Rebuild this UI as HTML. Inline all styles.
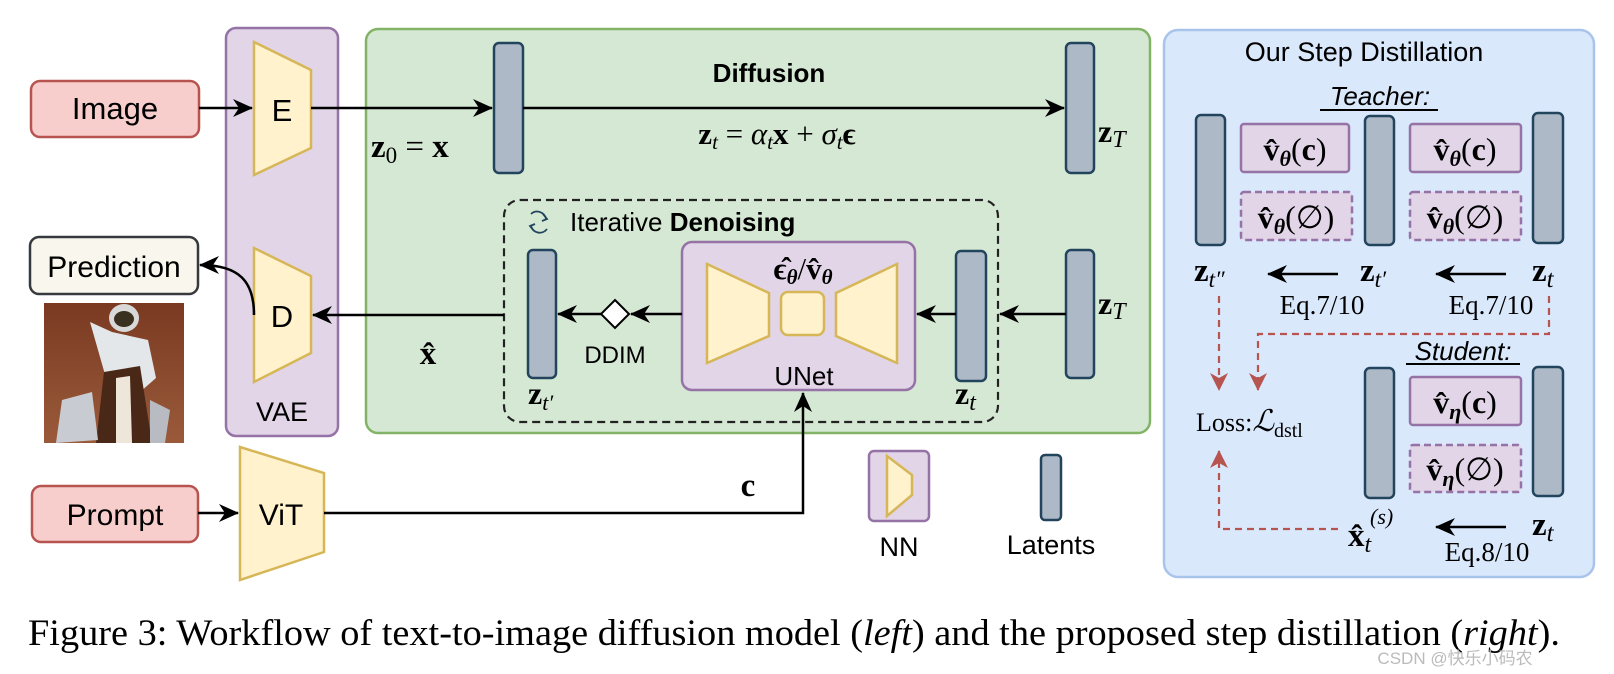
<!DOCTYPE html>
<html><head><meta charset="utf-8"><style>
html,body{margin:0;padding:0;background:#fff;}
svg{display:block;}
.s{font-family:"Liberation Sans",sans-serif;}
.m{font-family:"Liberation Serif",serif;}
</style></head><body>
<svg width="1614" height="674" viewBox="0 0 1614 674" xmlns="http://www.w3.org/2000/svg">
<defs>
<marker id="ahb" markerWidth="20" markerHeight="18" refX="19" refY="9" orient="auto" markerUnits="userSpaceOnUse" viewBox="0 0 20 18">
<path d="M0,0 L20,9 L0,18 L6,9 Z" fill="#000"/></marker>
<marker id="ahr" markerWidth="18" markerHeight="18" refX="17" refY="9" orient="auto" markerUnits="userSpaceOnUse" viewBox="0 0 18 18">
<path d="M0,0 L18,9 L0,18 L5,9 Z" fill="#b85450"/></marker>
<linearGradient id="ph" x1="0" y1="0" x2="0" y2="1">
<stop offset="0" stop-color="#7a3a22"/><stop offset="1" stop-color="#9a5a3a"/></linearGradient>
</defs>

<rect x="31" y="81" width="168" height="56" rx="9" fill="#f8cecc" stroke="#b85450" stroke-width="2.5"/>
<text x="115" y="119" class="s" font-size="31" text-anchor="middle">Image</text>
<rect x="30" y="237" width="168" height="57" rx="9" fill="#f9f7ed" stroke="#36393d" stroke-width="2.5"/>
<text x="114" y="277" class="s" font-size="30" text-anchor="middle">Prediction</text>
<rect x="44" y="303" width="140" height="140" fill="url(#ph)"/>
<ellipse cx="124" cy="318" rx="15" ry="14" fill="#d8d8d8"/>
<ellipse cx="124" cy="319" rx="10" ry="8" fill="#3a3020"/>
<path d="M90,322 L112,332 L148,340 L156,378 L140,392 L108,385 Z" fill="#e4e7ea"/>
<path d="M104,372 L140,366 L152,443 L96,443 Z" fill="#4a2818"/>
<path d="M116,378 L130,376 L132,443 L116,443 Z" fill="#efe6da"/>
<path d="M62,400 L92,392 L98,440 L56,443 Z" fill="#c8ccd2"/>
<path d="M150,400 L170,410 L165,443 L150,443 Z" fill="#b8bcc2"/>

<rect x="226" y="28" width="112" height="408" rx="10" fill="#e1d5e7" stroke="#9673a6" stroke-width="2.5"/>
<path d="M254,42 L311,70 L311,148 L254,175 Z" fill="#fff2cc" stroke="#d6b656" stroke-width="2.5"/>
<text x="282" y="121" class="s" font-size="31" text-anchor="middle">E</text>
<path d="M254,248 L311,276 L311,353 L254,382 Z" fill="#fff2cc" stroke="#d6b656" stroke-width="2.5"/>
<text x="282" y="327" class="s" font-size="31" text-anchor="middle">D</text>
<text x="282" y="421" class="s" font-size="27" text-anchor="middle">VAE</text>

<rect x="366" y="29" width="784" height="404" rx="12" fill="#d5e8d4" stroke="#82b366" stroke-width="2.5"/>
<text x="769" y="82" class="s" font-size="26" font-weight="bold" text-anchor="middle">Diffusion</text>
<rect x="494" y="43" width="29" height="130" rx="5" fill="#adb9c6" stroke="#23445d" stroke-width="2.5"/>
<rect x="1066" y="43" width="28" height="130" rx="5" fill="#adb9c6" stroke="#23445d" stroke-width="2.5"/>
<text x="371" y="157" class="m" font-size="33"><tspan font-weight="bold">z</tspan><tspan font-size="23" dy="6">0</tspan><tspan dy="-6"> = </tspan><tspan font-weight="bold">x</tspan></text>
<text x="1098" y="142" class="m" font-size="32"><tspan font-weight="bold">z</tspan><tspan font-style="italic" font-size="24" dy="5">T</tspan></text>
<text x="777" y="144" class="m" font-size="31" text-anchor="middle"><tspan font-weight="bold">z</tspan><tspan font-style="italic" font-size="21" dy="5">t</tspan><tspan dy="-5"> = </tspan><tspan font-style="italic">α</tspan><tspan font-style="italic" font-size="21" dy="5">t</tspan><tspan font-weight="bold" dy="-5">x</tspan><tspan> + </tspan><tspan font-style="italic">σ</tspan><tspan font-style="italic" font-size="21" dy="5">t</tspan><tspan font-weight="bold" dy="-5">ϵ</tspan></text>
<line x1="199" y1="108" x2="252" y2="108" stroke="#000" stroke-width="2.5" marker-end="url(#ahb)"/>
<line x1="311" y1="108" x2="492" y2="108" stroke="#000" stroke-width="2.5" marker-end="url(#ahb)"/>
<line x1="523" y1="108" x2="1064" y2="108" stroke="#000" stroke-width="2.5" marker-end="url(#ahb)"/>

<rect x="504" y="200" width="494" height="222" rx="16" fill="none" stroke="#222" stroke-width="2.2" stroke-dasharray="8,5"/>
<g fill="none" stroke="#23445d" stroke-width="1.8">
<path d="M531,214 A9,9 0 0 1 546,219"/><path d="M547,229 A9,9 0 0 1 531,226"/>
<path d="M543,214 L547,219 L542,221"/><path d="M534,231 L530,226 L535,224"/>
</g>
<text x="570" y="231" class="s" font-size="26">Iterative <tspan font-weight="bold">Denoising</tspan></text>
<rect x="528" y="250" width="28" height="128" rx="5" fill="#adb9c6" stroke="#23445d" stroke-width="2.5"/>
<rect x="956" y="251" width="30" height="130" rx="5" fill="#adb9c6" stroke="#23445d" stroke-width="2.5"/>
<rect x="1066" y="250" width="28" height="128" rx="5" fill="#adb9c6" stroke="#23445d" stroke-width="2.5"/>
<text x="528" y="404" class="m" font-size="32"><tspan font-weight="bold">z</tspan><tspan font-style="italic" font-size="22" dy="6">t′</tspan></text>
<text x="955" y="404" class="m" font-size="32"><tspan font-weight="bold">z</tspan><tspan font-style="italic" font-size="24" dy="6">t</tspan></text>
<text x="1098" y="314" class="m" font-size="32"><tspan font-weight="bold">z</tspan><tspan font-style="italic" font-size="24" dy="5">T</tspan></text>
<rect x="682" y="242" width="233" height="148" rx="10" fill="#e1d5e7" stroke="#9673a6" stroke-width="2.5"/>
<path d="M707,264 L769,293 L769,336 L707,363 Z" fill="#fff2cc" stroke="#d6b656" stroke-width="2.5"/>
<rect x="781" y="292" width="43" height="43" rx="7" fill="#fff2cc" stroke="#d6b656" stroke-width="2.5"/>
<path d="M836,293 L897,264 L897,363 L836,336 Z" fill="#fff2cc" stroke="#d6b656" stroke-width="2.5"/>
<text x="803" y="279" class="m" font-size="31" font-weight="bold" text-anchor="middle">ϵ̂<tspan font-style="italic" font-size="21" dy="5">θ</tspan><tspan dy="-5" font-weight="normal">/</tspan>v̂<tspan font-style="italic" font-size="21" dy="5">θ</tspan></text>
<text x="804" y="385" class="s" font-size="26" text-anchor="middle">UNet</text>
<path d="M615,300 L629,314 L615,328 L601,314 Z" fill="#fff" stroke="#000" stroke-width="2"/>
<text x="615" y="363" class="s" font-size="24" text-anchor="middle">DDIM</text>
<line x1="682" y1="314" x2="631" y2="314" stroke="#000" stroke-width="2.5" marker-end="url(#ahb)"/>
<line x1="601" y1="314" x2="558" y2="314" stroke="#000" stroke-width="2.5" marker-end="url(#ahb)"/>
<line x1="956" y1="314" x2="917" y2="314" stroke="#000" stroke-width="2.5" marker-end="url(#ahb)"/>
<line x1="1066" y1="314" x2="1000" y2="314" stroke="#000" stroke-width="2.5" marker-end="url(#ahb)"/>
<line x1="504" y1="315" x2="313" y2="315" stroke="#000" stroke-width="2.5" marker-end="url(#ahb)"/>
<text x="428" y="364" class="m" font-size="33" font-weight="bold" text-anchor="middle">x̂</text>
<path d="M254,315 C254,282 240,265 200,265" fill="none" stroke="#000" stroke-width="2.5" marker-end="url(#ahb)"/>

<rect x="32" y="486" width="166" height="56" rx="9" fill="#f8cecc" stroke="#b85450" stroke-width="2.5"/>
<text x="115" y="525" class="s" font-size="30" text-anchor="middle">Prompt</text>
<path d="M240,447 L324,473 L324,552 L240,580 Z" fill="#fff2cc" stroke="#d6b656" stroke-width="2.5"/>
<text x="281" y="525" class="s" font-size="30" text-anchor="middle">ViT</text>
<line x1="198" y1="513" x2="238" y2="513" stroke="#000" stroke-width="2.5" marker-end="url(#ahb)"/>
<path d="M324,513 H803 V393" fill="none" stroke="#000" stroke-width="2.5" marker-end="url(#ahb)"/>
<text x="748" y="496" class="m" font-size="33" font-weight="bold" text-anchor="middle">c</text>

<rect x="869" y="451" width="60" height="70" rx="5" fill="#e1d5e7" stroke="#9673a6" stroke-width="2.5"/>
<path d="M887,456 L912,475 L912,495 L887,516 Z" fill="#fff2cc" stroke="#d6b656" stroke-width="2.5"/>
<text x="899" y="556" class="s" font-size="27" text-anchor="middle">NN</text>
<rect x="1041" y="455" width="20" height="65" rx="4" fill="#adb9c6" stroke="#23445d" stroke-width="2.5"/>
<text x="1051" y="554" class="s" font-size="27" text-anchor="middle">Latents</text>

<rect x="1164" y="30" width="430" height="547" rx="14" fill="#dae8fc" stroke="#a9c4eb" stroke-width="2.5"/>
<text x="1364" y="61" class="s" font-size="27" text-anchor="middle">Our Step Distillation</text>
<text x="1380" y="105" class="s" font-size="26" font-style="italic" text-anchor="middle">Teacher:</text>
<line x1="1320" y1="110" x2="1438" y2="110" stroke="#000" stroke-width="2"/>
<g fill="#adb9c6" stroke="#23445d" stroke-width="2.5">
<rect x="1196" y="115" width="29" height="130" rx="5"/>
<rect x="1365" y="116" width="29" height="129" rx="5"/>
<rect x="1533" y="113" width="30" height="130" rx="5"/>
<rect x="1365" y="368" width="29" height="130" rx="5"/>
<rect x="1533" y="367" width="30" height="129" rx="5"/>
</g>
<g fill="#e1d5e7" stroke="#9673a6" stroke-width="2.5">
<rect x="1241" y="124" width="108" height="48" rx="3"/>
<rect x="1410" y="124" width="111" height="48" rx="3"/>
<rect x="1410" y="377" width="111" height="48" rx="3"/>
<rect x="1241" y="192" width="111" height="48" rx="3" stroke-dasharray="7,4"/>
<rect x="1410" y="192" width="111" height="48" rx="3" stroke-dasharray="7,4"/>
<rect x="1410" y="445" width="111" height="47" rx="3" stroke-dasharray="7,4"/>
</g>
<g class="m" font-size="32" text-anchor="middle">
<text x="1295" y="160"><tspan font-weight="bold">v̂</tspan><tspan font-style="italic" font-weight="bold" font-size="22" dy="6">θ</tspan><tspan dy="-6">(</tspan><tspan font-weight="bold">c</tspan>)</text>
<text x="1465" y="160"><tspan font-weight="bold">v̂</tspan><tspan font-style="italic" font-weight="bold" font-size="22" dy="6">θ</tspan><tspan dy="-6">(</tspan><tspan font-weight="bold">c</tspan>)</text>
<text x="1296" y="228"><tspan font-weight="bold">v̂</tspan><tspan font-style="italic" font-weight="bold" font-size="22" dy="6">θ</tspan><tspan dy="-6">(∅)</tspan></text>
<text x="1465" y="228"><tspan font-weight="bold">v̂</tspan><tspan font-style="italic" font-weight="bold" font-size="22" dy="6">θ</tspan><tspan dy="-6">(∅)</tspan></text>
<text x="1465" y="413"><tspan font-weight="bold">v̂</tspan><tspan font-style="italic" font-weight="bold" font-size="22" dy="6">η</tspan><tspan dy="-6">(</tspan><tspan font-weight="bold">c</tspan>)</text>
<text x="1465" y="480"><tspan font-weight="bold">v̂</tspan><tspan font-style="italic" font-weight="bold" font-size="22" dy="6">η</tspan><tspan dy="-6">(∅)</tspan></text>
</g>
<g class="m" font-size="33">
<text x="1194" y="281"><tspan font-weight="bold">z</tspan><tspan font-style="italic" font-size="23" dy="6">t″</tspan></text>
<text x="1360" y="281"><tspan font-weight="bold">z</tspan><tspan font-style="italic" font-size="23" dy="6">t′</tspan></text>
<text x="1532" y="281"><tspan font-weight="bold">z</tspan><tspan font-style="italic" font-size="25" dy="6">t</tspan></text>
<text x="1532" y="535"><tspan font-weight="bold">z</tspan><tspan font-style="italic" font-size="25" dy="6">t</tspan></text>
<text x="1348" y="546"><tspan font-weight="bold">x̂</tspan><tspan font-style="italic" font-size="24" dy="6">t</tspan></text>
<text x="1370" y="524" font-size="22" font-style="italic">(s)</text>
</g>
<g class="m" font-size="27" text-anchor="middle">
<text x="1322" y="314">Eq.7/10</text>
<text x="1491" y="314">Eq.7/10</text>
<text x="1487" y="561">Eq.8/10</text>
</g>
<line x1="1338" y1="274" x2="1268" y2="274" stroke="#000" stroke-width="2.5" marker-end="url(#ahb)"/>
<line x1="1506" y1="274" x2="1436" y2="274" stroke="#000" stroke-width="2.5" marker-end="url(#ahb)"/>
<line x1="1506" y1="527" x2="1436" y2="527" stroke="#000" stroke-width="2.5" marker-end="url(#ahb)"/>
<text x="1463" y="360" class="s" font-size="26" font-style="italic" text-anchor="middle">Student:</text>
<line x1="1406" y1="364" x2="1520" y2="364" stroke="#000" stroke-width="2"/>
<g fill="none" stroke="#b85450" stroke-width="2.2" stroke-dasharray="7,5">
<path d="M1219,296 V390" marker-end="url(#ahr)"/>
<path d="M1549,296 V334 H1258 V390" marker-end="url(#ahr)"/>
<path d="M1338,529 H1219 V451" marker-end="url(#ahr)"/>
</g>
<text x="1196" y="431" class="m" font-size="26">Loss:<tspan font-style="italic" font-size="30">ℒ</tspan><tspan font-size="20" dy="6">dstl</tspan></text>

<text x="28" y="645" class="m" font-size="37" textLength="1532" lengthAdjust="spacingAndGlyphs">Figure 3: Workflow of text-to-image diffusion model (<tspan font-style="italic">left</tspan>) and the proposed step distillation (<tspan font-style="italic">right</tspan>).</text>
<text x="1455" y="664" class="s" font-size="17" fill="#bbb" text-anchor="middle">CSDN @快乐小码农</text>
</svg>
</body></html>
